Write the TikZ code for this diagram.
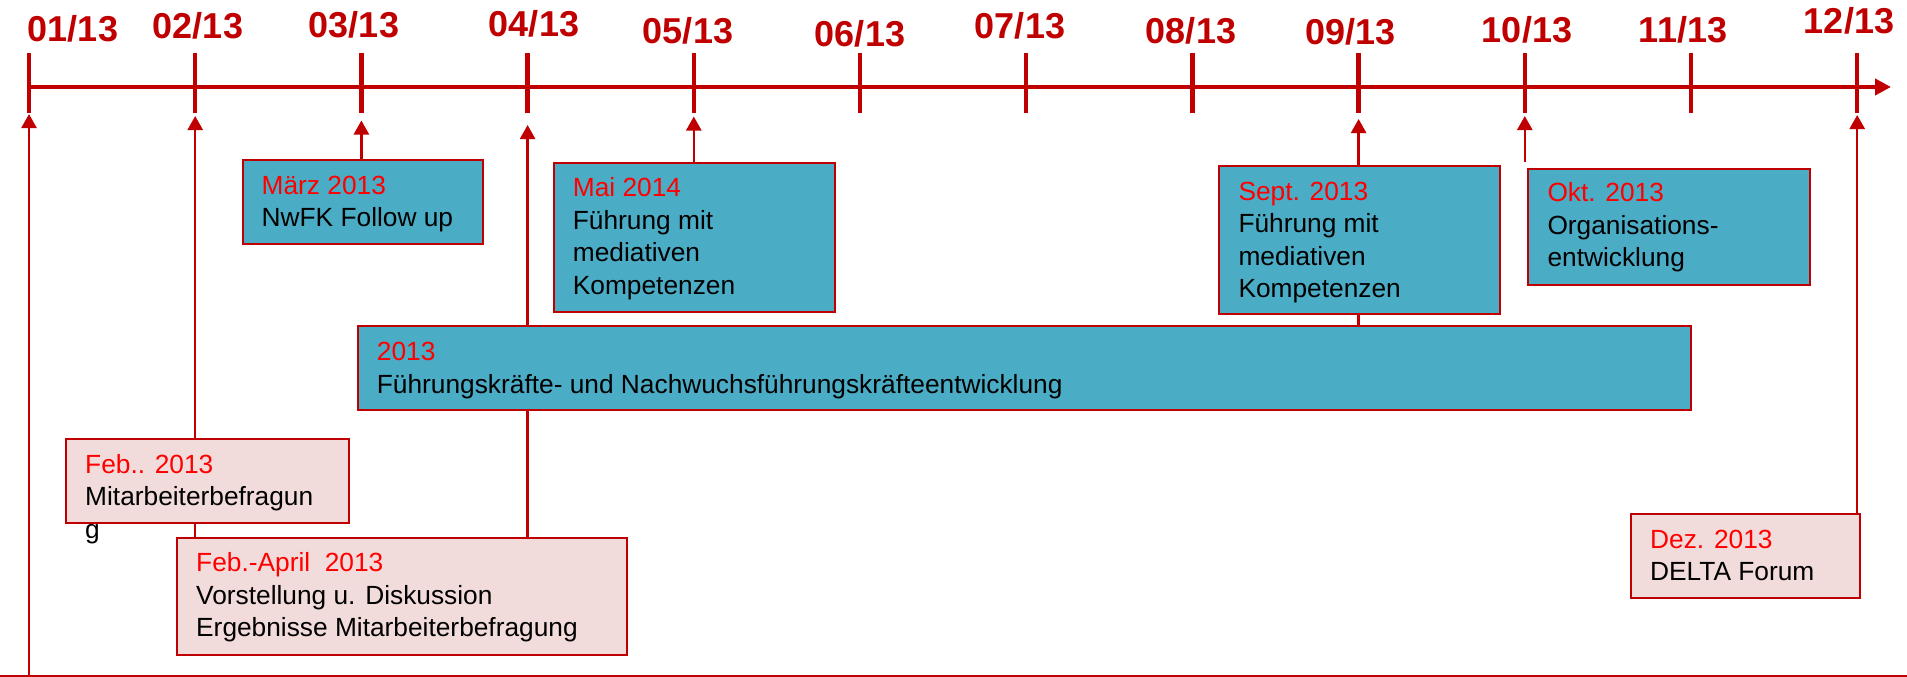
\documentclass[tikz,border=0pt]{standalone}
\usepackage{fontspec}
\setmainfont{Liberation Sans}
\usetikzlibrary{arrows.meta,calc,backgrounds}
\definecolor{tlred}{RGB}{192,0,0}
\definecolor{datered}{RGB}{255,0,0}
\definecolor{boxblue}{RGB}{75,172,198}
\definecolor{boxpink}{RGB}{242,220,219}
\tikzstyle{bluebox} = [draw=tlred, fill=boxblue, line width=2pt, rectangle, inner sep=0pt, anchor=north west]
\tikzstyle{pinkbox} = [draw=tlred, fill=boxpink, line width=2pt, rectangle, inner sep=0pt, anchor=north west]
\tikzstyle{evtext} = [anchor=base west, inner sep=0pt, font=\fontsize{26.3}{32.5}\selectfont]
\tikzstyle{month} = [anchor=base, inner sep=0pt, text=tlred, font=\fontsize{36}{40}\selectfont\bfseries]
\tikzstyle{tick} = [draw=tlred, line width=4.5pt]
\tikzstyle{axis} = [draw=tlred, line width=4.5pt, -{Triangle[width=16pt,length=16pt]}]
\tikzstyle{conn} = [draw=tlred, line width=2.5pt, -{Triangle[width=15pt,length=14pt]}]
\tikzstyle{baseline} = [draw=tlred, line width=2pt]
\newcommand{\evlines}[2]{\parbox[t]{1000pt}{\raggedright\leavevmode{\color{datered}#1}\\#2}}

\begin{document}
\begin{tikzpicture}[x=1pt, y=-1pt]
\useasboundingbox (0,0) rectangle (1907,677);

\coordinate (axstart) at (29,87);
\coordinate (axend) at (1891,87);
\draw [axis] (axstart) -- (axend);
\foreach \i in {1,...,12} {
  \coordinate (t\i) at ({29+166.2*(\i-1)},87);
  \draw [tick] ($(t\i)+(0,-34)$) -- ($(t\i)+(0,26)$);
}
\foreach \m/\lx/\ly in {01/73/42, 02/198/39, 03/354/37.5, 04/534/37, 05/688/44, 06/860/47, 07/1020/39, 08/1191/44, 09/1350.6/44.5, 10/1527/42.5, 11/1683/43, 12/1849/34}
  \node [month] (lab\m) at (\lx,\ly) {\m/13};

\node [bluebox, minimum width=240, minimum height=84] (maerz) at (241.5,159.3) {};
\node [bluebox, minimum width=281.3, minimum height=149] (mai) at (552.7,161.7) {};
\node [bluebox, minimum width=281, minimum height=148.3] (sept) at (1218.3,165) {};
\node [bluebox, minimum width=281.7, minimum height=116.3] (okt) at (1527.3,167.7) {};
\node [bluebox, minimum width=1333.3, minimum height=84.3] (fk) at (356.7,325) {};
\node [pinkbox, minimum width=283.3, minimum height=83.4] (feb) at (65,438.3) {};
\node [pinkbox, minimum width=450, minimum height=117] (febapril) at (176,536.5) {};
\node [pinkbox, minimum width=229, minimum height=84] (dez) at (1630,513) {};

\node [evtext] (maerztxt) at ($(maerz.north west)+(20,35)$) {\evlines{März 2013}{NwFK Follow up}};
\node [evtext] (maitxt) at ($(mai.north west)+(20,35)$) {\evlines{Mai 2014}{Führung mit\\mediativen\\Kompetenzen}};
\node [evtext] (septtxt) at ($(sept.north west)+(20,35)$) {\evlines{Sept. 2013}{Führung mit\\mediativen\\Kompetenzen}};
\node [evtext] (okttxt) at ($(okt.north west)+(20,34)$) {\evlines{Okt. 2013}{Organisations-\\entwicklung}};
\node [evtext] (fktxt) at ($(fk.north west)+(20,35.5)$) {\evlines{2013}{Führungskräfte- und Nachwuchsführungskräfteentwicklung}};
\node [evtext] (febtxt) at ($(feb.north west)+(20,35)$) {\evlines{Feb.. 2013}{Mitarbeiterbefragun\\g}};
\node [evtext] (febapriltxt) at ($(febapril.north west)+(20,35)$) {\evlines{Feb.-April~\ 2013}{Vorstellung u. Diskussion\\Ergebnisse Mitarbeiterbefragung}};
\node [evtext] (deztxt) at ($(dez.north west)+(20,35)$) {\evlines{Dez. 2013}{DELTA Forum}};

\begin{scope}[on background layer]
\coordinate (bl) at (0,676);
\coordinate (br) at (1907,676);
\draw [baseline] (bl) -- (br);
\draw [conn] (bl -| t1) -- ($(t1)+(0,27)$);
\draw [conn] (febapril.north -| t2) -- ($(t2)+(0,29)$);
\draw [conn] (maerz.north -| t3) -- ($(t3)+(0,33.5)$);
\draw [conn] (febapril.north -| t4) -- ($(t4)+(0,38)$);
\draw [conn] (mai.north -| t5) -- ($(t5)+(0,29.5)$);
\draw [conn] (fk.north -| t9) -- ($(t9)+(0,32)$);
\coordinate (oktfoot) at (okt.north -| t10);
\draw [conn] ($(oktfoot)+(0,-6)$) -- ($(t10)+(0,29)$);
\draw [conn] (dez.north -| t12) -- ($(t12)+(0,28)$);
\end{scope}

\end{tikzpicture}
\end{document}
